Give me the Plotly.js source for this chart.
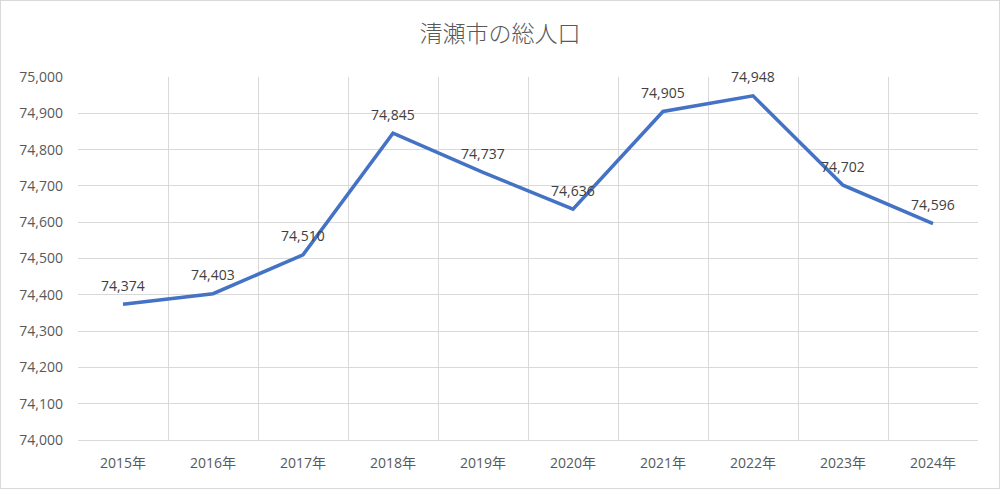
<!DOCTYPE html>
<html>
<head>
<meta charset="utf-8">
<script src="https://cdn.plot.ly/plotly-3.0.1.min.js"></script>
<style>
html,body{margin:0;padding:0;background:#fff;}
#chart{width:1000px;height:489px;box-sizing:border-box;border:1px solid #d9d9d9;}
</style>
</head>
<body>
<div id="chart"></div>
<script>
const years = ["2015年","2016年","2017年","2018年","2019年","2020年","2021年","2022年","2023年","2024年"];
const population = [74374, 74403, 74510, 74845, 74737, 74636, 74905, 74948, 74702, 74596];
const labels = population.map(v => v.toLocaleString("en-US"));

const numFont = "'Open Sans', 'Noto Sans CJK JP', sans-serif";
const cjkFont = "'Noto Sans CJK JP', 'Noto Sans', sans-serif";

const trace = {
  x: years,
  y: population,
  type: "scatter",
  mode: "lines",
  line: {color: "#4472C4", width: 3.5},
  hoverinfo: "none"
};

const annotations = years.map((yr, i) => ({
  x: yr,
  y: population[i],
  xref: "x",
  yref: "y",
  text: labels[i],
  showarrow: false,
  yshift: 19,
  xanchor: "center",
  yanchor: "middle",
  font: {family: numFont, size: 14, color: "#404040"}
}));

const layout = {
  width: 998,
  height: 487,
  margin: {l: 77, r: 21, t: 76, b: 48},
  paper_bgcolor: "#ffffff",
  plot_bgcolor: "#ffffff",
  showlegend: false,
  annotations: annotations,
  title: {
    text: "清瀬市の総人口",
    font: {family: cjkFont, size: 23, color: "#595959", weight: 300},
    x: 0.5, xanchor: "center",
    y: 0.932, yanchor: "middle"
  },
  xaxis: {
    type: "category",
    range: [-0.5, 9.5],
    tickson: "boundaries",
    showgrid: true,
    gridcolor: "#d9d9d9",
    gridwidth: 1,
    showline: true,
    linecolor: "#d9d9d9",
    ticks: "",
    ticklabelstandoff: 10,
    tickfont: {family: numFont, size: 14, color: "#595959"},
    fixedrange: true,
    zeroline: false
  },
  yaxis: {
    range: [74000, 75000],
    dtick: 100,
    tickformat: ",d",
    showgrid: true,
    gridcolor: "#d9d9d9",
    gridwidth: 1,
    showline: false,
    zeroline: false,
    ticks: "",
    ticklabelstandoff: 14,
    tickfont: {family: numFont, size: 14, color: "#595959"},
    fixedrange: true
  }
};

Plotly.newPlot("chart", [trace], layout, {displayModeBar: false, staticPlot: true});
</script>
</body>
</html>
